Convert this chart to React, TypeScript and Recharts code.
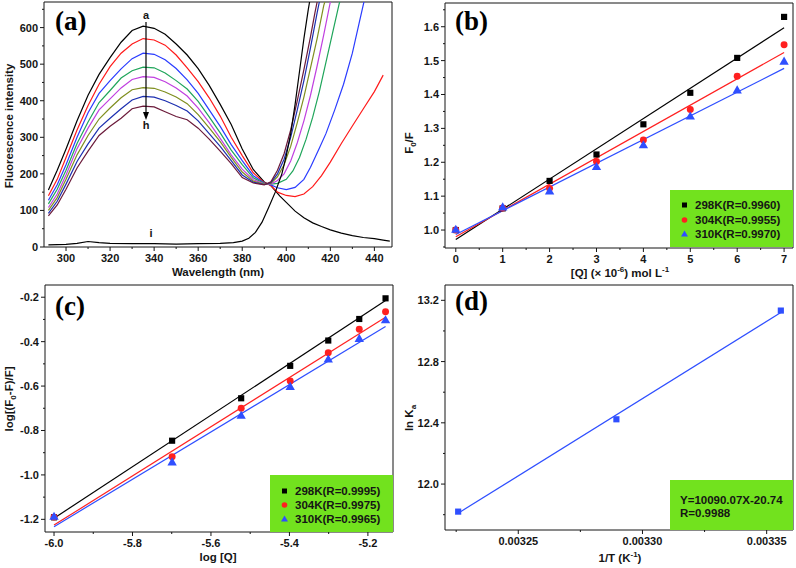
import React from 'react';
import { LineChart, ComposedChart, Line, Scatter, XAxis, YAxis, ZAxis, ReferenceLine } from 'recharts';

const SANS = '"Liberation Sans", Arial, sans-serif';
const SERIF = '"Liberation Serif", "Times New Roman", serif';
const INK = '#151515';
const LIME = '#72e21e';

// ---------- (a) fluorescence spectra ----------
const specWl = [292, 296, 300, 305, 310, 315, 320, 325, 330, 335, 340, 345, 350, 355, 360, 365, 370, 375, 380, 385, 390, 393];
const specA = [156, 210, 268, 345, 415, 472, 518, 560, 592, 604, 598, 582, 555, 525, 488, 442, 390, 335, 268, 212, 178, 168];
const specB = [140, 185, 245, 320, 387, 445, 493, 530, 555, 570, 566, 552, 525, 490, 452, 408, 358, 300, 250, 203, 176, 168];
const specC = [128, 170, 225, 300, 367, 420, 455, 487, 515, 530, 527, 512, 488, 457, 420, 375, 330, 280, 236, 195, 175, 170];
const specD = [118, 158, 210, 283, 342, 395, 428, 462, 482, 492, 490, 476, 455, 432, 398, 356, 312, 265, 225, 189, 174, 172];
const specE = [108, 145, 197, 269, 325, 375, 405, 435, 458, 466, 464, 452, 435, 413, 380, 340, 297, 252, 213, 184, 173, 172];
const specF = [100, 135, 185, 252, 305, 350, 380, 408, 430, 436, 434, 424, 410, 392, 362, 326, 288, 245, 205, 180, 172, 174];
const specG = [92, 125, 172, 234, 282, 325, 352, 378, 402, 412, 410, 400, 387, 372, 345, 310, 275, 236, 197, 177, 171, 176];
const specH = [85, 115, 158, 216, 262, 305, 330, 352, 378, 385, 383, 370, 357, 348, 325, 295, 262, 228, 190, 175, 170, 178];

// long-wavelength tails (each curve leaves the isosbestic point differently)
const tailWlA = [397, 400, 404, 408, 412, 416, 420, 425, 430, 435, 440, 444, 447];
const tailA = [140, 122, 98, 80, 66, 56, 47, 38, 31, 26, 23, 19, 16];
const tailWlB = [396, 400, 404, 408, 412, 416, 420, 425, 430, 435, 440, 444];
const tailB = [150, 141, 138, 145, 165, 195, 232, 283, 331, 378, 425, 470];
const tailWlC = [396, 400, 404, 408, 411, 415, 418, 422, 426, 430, 433, 436];
const tailC = [162, 157, 163, 185, 218, 270, 310, 375, 445, 530, 610, 690];
const tailWlD = [396, 400, 403, 406, 409, 412, 415, 418, 421, 424, 426];
const tailD = [174, 185, 208, 245, 295, 355, 425, 505, 585, 665, 700];
const tailWlE = [396, 399, 402, 405, 408, 411, 414, 417, 420, 422];
const tailE = [182, 200, 235, 285, 345, 415, 495, 580, 670, 700];
const tailWlF = [396, 399, 402, 405, 408, 411, 414, 417, 419];
const tailF = [192, 225, 275, 340, 410, 490, 570, 660, 700];
const tailWlG = [396, 399, 402, 405, 408, 411, 414, 416];
const tailG = [200, 240, 300, 375, 455, 545, 640, 700];
const tailWlH = [396, 399, 402, 405, 408, 411, 413, 415];
const tailH = [210, 255, 320, 400, 485, 575, 640, 700];

const specWlI = [292, 300, 305, 310, 315, 320, 330, 340, 350, 360, 370, 376, 380, 383, 386, 389, 392, 395, 398, 400, 402, 404, 406, 408, 410, 412];
const specI = [6, 7, 10, 15, 12, 10, 9, 9, 8, 9, 10, 12, 16, 24, 40, 68, 108, 150, 200, 250, 310, 390, 480, 570, 650, 720];

const curveColors = ['#000000', '#ff1a1a', '#2a3cff', '#1fa55a', '#c040e0', '#7f8f1f', '#1c2fb0', '#6b1a3a'];

const aTicksX = [300, 310, 320, 330, 340, 350, 360, 370, 380, 390, 400, 410, 420, 430, 440];
const aMajorX = [300, 320, 340, 360, 380, 400, 420, 440];
const aTicksY = [0, 50, 100, 150, 200, 250, 300, 350, 400, 450, 500, 550, 600, 650];
const aMajorY = [0, 100, 200, 300, 400, 500, 600];

// ---------- (b) Stern-Volmer ----------
const conc = [0, 1, 2, 3, 4, 5, 6, 7];
const sv298 = [1.0, 1.064, 1.145, 1.223, 1.312, 1.405, 1.508, 1.629];
const sv304 = [1.0, 1.065, 1.123, 1.202, 1.266, 1.356, 1.454, 1.547];
const sv310 = [1.0, 1.066, 1.113, 1.185, 1.249, 1.334, 1.411, 1.496];
const svFitX = [0, 7];
const svFit298 = [0.972, 1.597];
const svFit304 = [0.98, 1.524];
const svFit310 = [0.987, 1.477];

const bTicksX = [0, 0.5, 1, 1.5, 2, 2.5, 3, 3.5, 4, 4.5, 5, 5.5, 6, 6.5, 7];
const bMajorX = [0, 1, 2, 3, 4, 5, 6, 7];
const bTicksY = [0.95, 1.0, 1.05, 1.1, 1.15, 1.2, 1.25, 1.3, 1.35, 1.4, 1.45, 1.5, 1.55, 1.6, 1.65];
const bMajorY = [1.0, 1.1, 1.2, 1.3, 1.4, 1.5, 1.6];

// ---------- (c) double log ----------
const logQ = [-6.0, -5.699, -5.523, -5.398, -5.301, -5.222, -5.155];
const dl298 = [-1.191, -0.846, -0.655, -0.509, -0.395, -0.298, -0.205];
const dl304 = [-1.19, -0.918, -0.7, -0.577, -0.45, -0.344, -0.265];
const dl310 = [-1.19, -0.945, -0.735, -0.605, -0.482, -0.389, -0.305];
const dlFitX = [-6.0, -5.155];
const dlFit298 = [-1.195, -0.215];
const dlFit304 = [-1.226, -0.29];
const dlFit310 = [-1.233, -0.332];

const cTicksX = [-6.0, -5.9, -5.8, -5.7, -5.6, -5.5, -5.4, -5.3, -5.2];
const cMajorX = [-6.0, -5.8, -5.6, -5.4, -5.2];
const cTicksY = [-1.2, -1.1, -1.0, -0.9, -0.8, -0.7, -0.6, -0.5, -0.4, -0.3, -0.2];
const cMajorY = [-1.2, -1.0, -0.8, -0.6, -0.4, -0.2];

// ---------- (d) van't Hoff ----------
const invT = [0.0032258, 0.0032895, 0.0033557];
const lnKa = [11.82, 12.423, 13.133];
const vhFitX = [0.0032258, 0.0033557];
const vhFitY = [11.81, 13.12];

const dTicksX = [0.003225, 0.00325, 0.003275, 0.0033, 0.003325, 0.00335];
const dMajorX = [0.00325, 0.0033, 0.00335];
const dTicksY = [11.8, 12.0, 12.2, 12.4, 12.6, 12.8, 13.0, 13.2];
const dMajorY = [12.0, 12.4, 12.8, 13.2];

const pts = (xs: number[], ys: number[]) => xs.map((x, i) => ({ x, y: ys[i] }));
const isIn = (list: number[], v: number) => list.some((m) => Math.abs(m - v) < 1e-9);

function bottomTick(major: number[], fmt: (v: number) => string) {
  return (p: any) => {
    const v = p.payload.value;
    const big = isIn(major, v);
    return (
      <g>
        <line x1={p.x} x2={p.x} y1={p.y} y2={p.y + (big ? 4 : 2)} stroke={INK} />
        {big && (
          <text x={p.x} y={p.y + 15} textAnchor="middle" fontSize={11} fontWeight="bold" fontFamily={SANS} fill={INK}>
            {fmt(v)}
          </text>
        )}
      </g>
    );
  };
}

function leftTick(major: number[], fmt: (v: number) => string) {
  return (p: any) => {
    const v = p.payload.value;
    const big = isIn(major, v);
    return (
      <g>
        <line x1={p.x - (big ? 4 : 2)} x2={p.x} y1={p.y} y2={p.y} stroke={INK} />
        {big && (
          <text x={p.x - 6} y={p.y + 4} textAnchor="end" fontSize={11} fontWeight="bold" fontFamily={SANS} fill={INK}>
            {fmt(v)}
          </text>
        )}
      </g>
    );
  };
}

const str = (v: number) => String(v);
const f1 = (v: number) => v.toFixed(1);
const f5 = (v: number) => v.toFixed(5);

// closing top/right sides of the plot box
function frame(xDomain: number[], yDomain: number[]) {
  return [
    <ReferenceLine key="top" y={yDomain[1]} stroke={INK} strokeWidth={1} ifOverflow="visible" />,
    <ReferenceLine key="right" x={xDomain[1]} stroke={INK} strokeWidth={1} ifOverflow="visible" />,
  ];
}

function PanelA() {
  const xDom = [290, 448];
  const yDom = [0, 670];
  const curves = [
    pts([...specWl, ...tailWlA], [...specA, ...tailA]),
    pts([...specWl, ...tailWlB], [...specB, ...tailB]),
    pts([...specWl, ...tailWlC], [...specC, ...tailC]),
    pts([...specWl, ...tailWlD], [...specD, ...tailD]),
    pts([...specWl, ...tailWlE], [...specE, ...tailE]),
    pts([...specWl, ...tailWlF], [...specF, ...tailF]),
    pts([...specWl, ...tailWlG], [...specG, ...tailG]),
    pts([...specWl, ...tailWlH], [...specH, ...tailH]),
  ];
  return (
    <LineChart width={398} height={282} margin={{ top: 2, right: 6, bottom: 0, left: 0 }}>
      <XAxis type="number" dataKey="x" domain={xDom} allowDataOverflow ticks={aTicksX} interval={0} tickSize={0} tickMargin={0} height={35} stroke={INK} tick={bottomTick(aMajorX, str)} />
      <YAxis type="number" dataKey="y" domain={yDom} allowDataOverflow ticks={aTicksY} interval={0} tickSize={0} tickMargin={0} width={44} stroke={INK} tick={leftTick(aMajorY, str)} />
      {frame(xDom, yDom)}
      {curves.map((c, i) => (
        <Line key={i} data={c} dataKey="y" type="linear" stroke={curveColors[i]} strokeWidth={1.2} dot={false} isAnimationActive={false} />
      ))}
      <Line data={pts(specWlI, specI)} dataKey="y" type="linear" stroke="#000" strokeWidth={1.2} dot={false} isAnimationActive={false} />
    </LineChart>
  );
}

const BLK = '#000000';
const RED = '#ff2020';
const BLU = '#2f4fff';

function fitLine(xs: number[], ys: number[], color: string) {
  return <Line data={pts(xs, ys)} dataKey="y" type="linear" stroke={color} strokeWidth={1.2} dot={false} isAnimationActive={false} />;
}

function PanelB() {
  const xDom = [-0.23, 7.19];
  const yDom = [0.947, 1.67];
  return (
    <ComposedChart width={396} height={282} margin={{ top: 3, right: 3, bottom: 0, left: 0 }}>
      <XAxis type="number" dataKey="x" domain={xDom} allowDataOverflow ticks={bTicksX} interval={0} tickSize={0} tickMargin={0} height={34} stroke={INK} tick={bottomTick(bMajorX, str)} />
      <YAxis type="number" dataKey="y" domain={yDom} allowDataOverflow ticks={bTicksY} interval={0} tickSize={0} tickMargin={0} width={45} stroke={INK} tick={leftTick(bMajorY, f1)} />
      <ZAxis type="number" range={[38, 38]} />
      {frame(xDom, yDom)}
      {fitLine(svFitX, svFit298, BLK)}
      {fitLine(svFitX, svFit304, RED)}
      {fitLine(svFitX, svFit310, BLU)}
      <Scatter data={pts(conc, sv298)} shape="square" fill={BLK} isAnimationActive={false} />
      <Scatter data={pts(conc, sv304)} shape="circle" fill={RED} isAnimationActive={false} />
      <Scatter data={pts(conc, sv310)} shape="triangle" fill={BLU} isAnimationActive={false} />
    </ComposedChart>
  );
}

function PanelC() {
  const xDom = [-6.023, -5.136];
  const yDom = [-1.257, -0.145];
  return (
    <ComposedChart width={398} height={286} margin={{ top: 3, right: 5, bottom: 0, left: 0 }}>
      <XAxis type="number" dataKey="x" domain={xDom} allowDataOverflow ticks={cTicksX} interval={0} tickSize={0} tickMargin={0} height={36} stroke={INK} tick={bottomTick(cMajorX, f1)} />
      <YAxis type="number" dataKey="y" domain={yDom} allowDataOverflow ticks={cTicksY} interval={0} tickSize={0} tickMargin={0} width={45} stroke={INK} tick={leftTick(cMajorY, f1)} />
      <ZAxis type="number" range={[38, 38]} />
      {frame(xDom, yDom)}
      {fitLine(dlFitX, dlFit298, BLK)}
      {fitLine(dlFitX, dlFit304, RED)}
      {fitLine(dlFitX, dlFit310, BLU)}
      <Scatter data={pts(logQ, dl298)} shape="square" fill={BLK} isAnimationActive={false} />
      <Scatter data={pts(logQ, dl304)} shape="circle" fill={RED} isAnimationActive={false} />
      <Scatter data={pts(logQ, dl310)} shape="triangle" fill={BLU} isAnimationActive={false} />
    </ComposedChart>
  );
}

function PanelD() {
  const xDom = [0.0032205, 0.0033606];
  const yDom = [11.7, 13.3];
  return (
    <ComposedChart width={396} height={286} margin={{ top: 3, right: 3, bottom: 0, left: 0 }}>
      <XAxis type="number" dataKey="x" domain={xDom} allowDataOverflow ticks={dTicksX} interval={0} tickSize={0} tickMargin={0} height={38} stroke={INK} tick={bottomTick(dMajorX, f5)} />
      <YAxis type="number" dataKey="y" domain={yDom} allowDataOverflow ticks={dTicksY} interval={0} tickSize={0} tickMargin={0} width={45} stroke={INK} tick={leftTick(dMajorY, f1)} />
      <ZAxis type="number" range={[38, 38]} />
      {frame(xDom, yDom)}
      {fitLine(vhFitX, vhFitY, BLU)}
      <Scatter data={pts(invT, lnKa)} shape="square" fill={BLU} isAnimationActive={false} />
    </ComposedChart>
  );
}

const tStyle = { fontFamily: SANS, fontWeight: 'bold' as const, fill: INK };

function Overlay() {
  const legRows = (x0: number, ys: number[], labels: string[]) => (
    <g>
      <rect x={x0 - 8} y={ys[0] - 2.5} width={5} height={5} fill={BLK} />
      <circle cx={x0 - 5.5} cy={ys[1]} r={2.8} fill={RED} />
      <polygon points={`${x0 - 5.5},${ys[2] - 3.5} ${x0 - 2},${ys[2] + 2.5} ${x0 - 9},${ys[2] + 2.5}`} fill={BLU} />
      {labels.map((l, i) => (
        <text key={i} x={x0 + 5} y={ys[i] + 4} fontSize={11.5} {...tStyle}>{l}</text>
      ))}
    </g>
  );
  return (
    <svg width={796} height={568} style={{ position: 'absolute', left: 0, top: 0, pointerEvents: 'none' }}>
      {/* panel letters */}
      <text x={55} y={30} fontFamily={SERIF} fontWeight="bold" fontSize={27} fill="#000">(a)</text>
      <text x={455} y={30} fontFamily={SERIF} fontWeight="bold" fontSize={27} fill="#000">(b)</text>
      <text x={55} y={315} fontFamily={SERIF} fontWeight="bold" fontSize={27} fill="#000">(c)</text>
      <text x={455} y={310} fontFamily={SERIF} fontWeight="bold" fontSize={27} fill="#000">(d)</text>

      {/* (a) annotations */}
      <text x={146} y={19} textAnchor="middle" fontSize={11} {...tStyle}>a</text>
      <line x1={146} y1={22} x2={146} y2={113} stroke="#000" strokeWidth={1.2} />
      <polygon points="143,112 149,112 146,120" fill="#000" />
      <text x={146} y={129} textAnchor="middle" fontSize={11} {...tStyle}>h</text>
      <text x={151} y={237} textAnchor="middle" fontSize={11} {...tStyle}>i</text>

      {/* axis titles */}
      <text x={218} y={276} textAnchor="middle" fontSize={11.5} {...tStyle}>Wavelength (nm)</text>
      <text transform="translate(13,126) rotate(-90)" textAnchor="middle" fontSize={11.5} {...tStyle}>Fluorescence intensity</text>

      <text x={620} y={277} textAnchor="middle" fontSize={11.5} {...tStyle}>
        [Q] (× 10<tspan dy={-5} fontSize={8}>-6</tspan><tspan dy={5}>) mol L</tspan><tspan dy={-5} fontSize={8}>-1</tspan>
      </text>
      <text transform="translate(413,143) rotate(-90)" textAnchor="middle" fontSize={11.5} {...tStyle}>
        F<tspan dy={3} fontSize={8}>0</tspan><tspan dy={-3}>/F</tspan>
      </text>

      <text x={218} y={561} textAnchor="middle" fontSize={11.5} {...tStyle}>log [Q]</text>
      <text transform="translate(13,399) rotate(-90)" textAnchor="middle" fontSize={11.5} {...tStyle}>
        log[(F<tspan dy={3} fontSize={8}>0</tspan><tspan dy={-3}>-F)/F]</tspan>
      </text>

      <text x={620} y={562} textAnchor="middle" fontSize={11.5} {...tStyle}>
        1/T (K<tspan dy={-5} fontSize={8}>-1</tspan><tspan dy={5}>)</tspan>
      </text>
      <text transform="translate(413,418) rotate(-90)" textAnchor="middle" fontSize={11.5} {...tStyle}>
        ln K<tspan dy={3} fontSize={8}>a</tspan>
      </text>

      {/* legends */}
      <rect x={670} y={190} width={123} height={57} fill={LIME} />
      {legRows(690, [205, 220, 234], ['298K(R=0.9960)', '304K(R=0.9955)', '310K(R=0.9970)'])}
      <rect x={270} y={475} width={123} height={57} fill={LIME} />
      {legRows(290, [491, 505, 519], ['298K(R=0.9995)', '304K(R=0.9975)', '310K(R=0.9965)'])}
      <rect x={670} y={480} width={123} height={50} fill={LIME} />
      <text x={680} y={504} fontSize={11.5} {...tStyle}>Y=10090.07X-20.74</text>
      <text x={680} y={517} fontSize={11.5} {...tStyle}>R=0.9988</text>
    </svg>
  );
}

export default function App() {
  return (
    <div style={{ position: 'absolute', left: 0, top: 0, width: 796, height: 568, background: '#fff' }}>
      <div style={{ position: 'absolute', left: 0, top: 0 }}><PanelA /></div>
      <div style={{ position: 'absolute', left: 400, top: 0 }}><PanelB /></div>
      <div style={{ position: 'absolute', left: 0, top: 282 }}><PanelC /></div>
      <div style={{ position: 'absolute', left: 400, top: 282 }}><PanelD /></div>
      <Overlay />
    </div>
  );
}
